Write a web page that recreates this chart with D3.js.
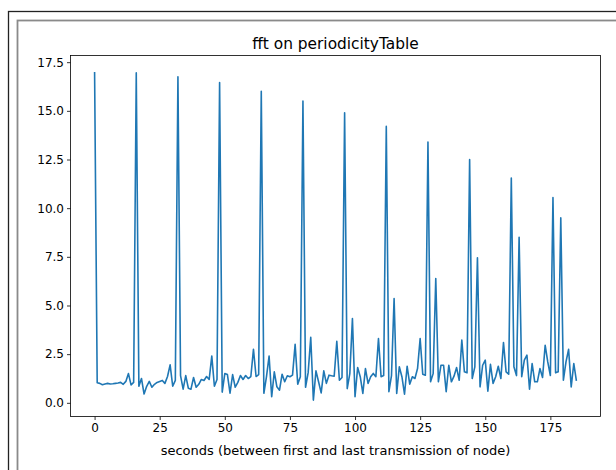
<!DOCTYPE html>
<html>
<head>
<meta charset="utf-8">
<script src="https://cdn.jsdelivr.net/npm/d3@7"></script>
<style>
  body { margin: 0; background: #fff; }
  svg { display: block; font-family: "DejaVu Sans", sans-serif; }
</style>
</head>
<body>
<svg id="chart" width="616" height="470"></svg>
<script>
// fft magnitude, one value per second (index = seconds)
const fftValues = [
  17.0, 1.03, 1.0, 0.93, 0.97, 1.0, 0.97, 0.98, 1.0, 1.02, 1.05, 0.95, 1.1, 1.5, 0.92, 1.05,
  16.95, 0.85, 1.25, 0.45, 0.85, 1.1, 0.8, 0.95, 1.05, 1.1, 1.15, 1.0, 1.35, 1.95, 0.85, 1.15,
  16.75, 1.4, 0.7, 1.4, 0.75, 0.7, 1.3, 0.8, 0.95, 1.2, 1.15, 1.35, 1.2, 2.4, 0.85, 1.2,
  16.45, 0.55, 1.5, 1.45, 0.5, 1.45, 0.8, 1.05, 1.4, 1.2, 1.4, 1.25, 1.35, 2.75, 1.35, 1.45,
  16.0, 0.49, 1.35, 2.4, 0.31, 1.59, 0.82, 0.65, 1.47, 1.08, 1.39, 1.34, 1.42, 3.0, 0.96, 1.34,
  15.5, 0.8, 1.55, 3.36, 0.14, 1.64, 1.08, 0.51, 1.64, 1.0, 1.42, 1.39, 1.37, 3.16, 1.16, 1.3,
  14.9, 0.73, 1.5, 4.33, 0.31, 1.81, 1.34, 0.48, 1.76, 1.0, 1.34, 1.51, 1.34, 3.3, 1.34, 1.4,
  14.2, 0.57, 1.4, 5.36, 0.48, 1.85, 1.34, 0.44, 1.88, 0.96, 1.34, 1.25, 1.76, 3.3, 1.47, 1.42,
  13.4, 1.08, 1.5, 6.39, 1.08, 1.93, 1.93, 0.57, 1.93, 1.08, 1.37, 1.81, 1.16, 3.22, 1.59, 1.54,
  12.5, 1.25, 1.85, 7.45, 0.82, 1.93, 2.19, 0.6, 1.98, 1.0, 1.34, 1.88, 1.25, 3.1, 1.59, 1.47,
  11.55, 1.85, 1.4, 8.5, 1.34, 2.19, 2.45, 0.7, 2.02, 1.08, 1.08, 1.76, 1.3, 2.96, 2.1, 1.4,
  10.55, 1.54, 1.59, 9.5, 1.16, 2.1, 2.75, 0.82, 2.02, 1.13
];
const xTicks = [0, 25, 50, 75, 100, 125, 150, 175];
const yTicks = [0, 2.5, 5, 7.5, 10, 12.5, 15, 17.5];
const titleText = "fft on periodicityTable";
const xLabelText = "seconds (between first and last transmission of node)";

function drawChart(values) {
    const svg = d3.select('#chart');

    // window frame around the figure
    svg.append('rect')
        .attr('x', 8.5).attr('y', 11.5)
        .attr('width', 700).attr('height', 600)
        .attr('fill', 'none').attr('stroke', '#222').attr('stroke-width', 1.3);
    svg.append('rect')
        .attr('x', 17.5).attr('y', 20.5)
        .attr('width', 700).attr('height', 600)
        .attr('fill', 'none').attr('stroke', '#8a8a8a').attr('stroke-width', 1.8);

    const left = 70.5, right = 600.5, top = 55.5, bottom = 416.5;

    // matplotlib style 5% margins
    const xExt = [0, values.length - 1];
    const xPad = (xExt[1] - xExt[0]) * 0.05;
    const yExt = d3.extent(values);
    const yPad = (yExt[1] - yExt[0]) * 0.05;

    const x = d3.scaleLinear()
        .domain([xExt[0] - xPad, xExt[1] + xPad])
        .range([left, right]);
    const y = d3.scaleLinear()
        .domain([yExt[0] - yPad, yExt[1] + yPad])
        .range([bottom, top]);

    const xAxis = svg.append('g')
        .attr('transform', `translate(0, ${bottom})`)
        .call(d3.axisBottom(x).tickValues(xTicks).tickSize(3.5).tickPadding(3).tickFormat(d3.format('d')));
    const yAxis = svg.append('g')
        .attr('transform', `translate(${left}, 0)`)
        .call(d3.axisLeft(y).tickValues(yTicks).tickSize(3.5).tickPadding(3).tickFormat(d3.format('.1f')));

    [xAxis, yAxis].forEach(a => {
        a.select('.domain').remove();
        a.selectAll('line').attr('stroke', '#000').attr('stroke-width', 0.8);
        a.selectAll('text').attr('fill', '#000').style('font-size', '12px')
            .style('font-family', '"DejaVu Sans", sans-serif');
    });

    svg.append('path')
        .datum(values)
        .attr('fill', 'none')
        .attr('stroke', '#1f77b4')
        .attr('stroke-width', 1.6)
        .attr('stroke-linejoin', 'round')
        .attr('d', d3.line().x((d, i) => x(i)).y(d => y(d)));

    // spines
    svg.append('rect')
        .attr('x', left).attr('y', top)
        .attr('width', right - left).attr('height', bottom - top)
        .attr('fill', 'none').attr('stroke', '#000').attr('stroke-width', 0.8);

    svg.append('text')
        .attr('x', (left + right) / 2).attr('y', 49)
        .attr('text-anchor', 'middle')
        .style('font-size', '15.4px')
        .text(titleText);

    svg.append('text')
        .attr('x', (left + right) / 2).attr('y', 455)
        .attr('text-anchor', 'middle')
        .style('font-size', '13px')
        .text(xLabelText);
}

drawChart(fftValues);
</script>
</body>
</html>
